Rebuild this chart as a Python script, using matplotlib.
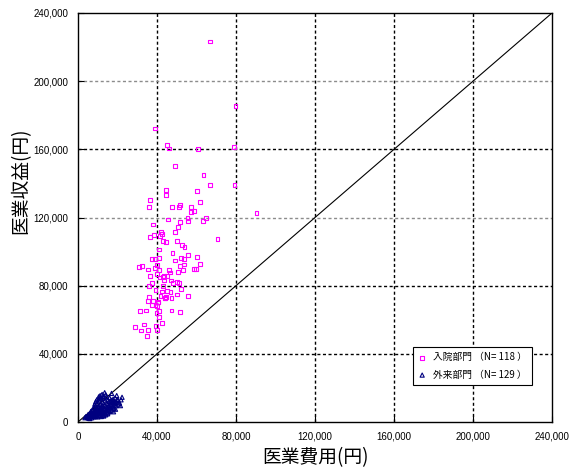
import matplotlib
matplotlib.use("Agg")
import matplotlib.pyplot as plt
from matplotlib.ticker import FuncFormatter, MultipleLocator

plt.rcParams['font.family'] = ['Noto Sans CJK JP', 'DejaVu Sans']

# 入院部門 (inpatient): cost (x), revenue (y)
inpatient_cost = [
    67000, 79800, 39000, 45200, 46200, 60900, 79000, 49100, 63600, 66700,
    79300, 44400, 44700, 60400, 36300, 35800, 47600, 51000, 51500, 61800,
    57100, 57100, 58600, 90300, 45700, 51500, 55500, 55700, 64700, 63300,
    38100, 50500, 49100, 41900, 42500, 41500, 38600, 36600, 70700, 43000,
    44700, 50000, 52800, 54000, 41000, 47900, 55700, 37500, 39100, 40900,
    49000, 52300, 53800, 60100, 61800, 40000, 30900, 32400, 35300, 39100,
    41000, 51500, 53800, 58700, 59600, 46200, 46700, 50600, 40000, 41500,
    43400, 43400, 47100, 48100, 50100, 51100, 35800, 42900, 52300, 39300,
    42500, 45200, 46900, 50100, 55700, 35800, 43900, 44600, 47400, 35400,
    38100, 40500, 39300, 37300, 31400, 34400, 40900, 47400, 51500, 39800,
    41000, 42400, 33300, 39500, 28700, 31900, 35300, 40000, 34900, 41700,
    40400, 40000, 44200, 43200, 37500, 44900, 53200, 36500,
]
inpatient_rev = [
    223200, 185600, 172300, 162500, 160400, 160200, 161400, 150400, 144900, 139200,
    138900, 136100, 133200, 135600, 130400, 126200, 126200, 126200, 127300, 128900,
    126200, 123400, 124000, 122800, 118900, 117400, 119900, 118100, 119700, 117900,
    115800, 114400, 111500, 111500, 110300, 109100, 109900, 108600, 107400, 106400,
    105800, 106400, 104000, 102500, 101300, 99300, 98000, 95800, 95800, 96200,
    94700, 96200, 95600, 96800, 92900, 92300, 90800, 91500, 89400, 90400,
    89200, 91400, 92500, 89800, 89800, 89200, 87800, 88200, 86700, 84700,
    85700, 83300, 83100, 81400, 82000, 81400, 80000, 79800, 78200, 77600,
    76500, 77000, 76100, 74900, 73900, 73200, 72900, 73400, 72900, 71200,
    71000, 70400, 68700, 68500, 65100, 65500, 65100, 65500, 64400, 63800,
    61600, 57900, 57300, 56500, 55700, 53600, 54000, 54000, 50300, 73900,
    70200, 68200, 72400, 84900, 81600, 85500, 89200, 85700,
]

# 外来部門 (outpatient): cost (x), revenue (y)
outpatient_cost = [
    3500, 4000, 4500, 5000, 5200, 5800, 6000, 6300, 6500, 6800,
    7000, 7200, 7500, 7800, 8000, 8200, 8400, 8600, 8800, 9000,
    9200, 9400, 9600, 9800, 10000, 10200, 10400, 10600, 10800, 11000,
    11200, 11400, 11600, 11800, 12000, 12200, 12400, 12600, 12800, 13000,
    13200, 13400, 13600, 13800, 14000, 14200, 14400, 14600, 14800, 15000,
    15200, 15400, 15600, 15800, 16000, 16200, 16400, 16600, 16800, 17000,
    17200, 17400, 17600, 17800, 18000, 18200, 18400, 18600, 18800, 19000,
    19200, 19400, 19600, 19900, 20300, 20600, 21000, 21500, 21800, 22300,
    6000, 7000, 8000, 9000, 10000, 11000, 12000, 13000, 14000, 15000,
    10500, 11200, 12200, 13500, 9000, 8500, 9500, 10800, 12800, 14500,
    16500, 17500, 18500, 11500, 12500, 13700, 15600, 16800, 5500, 6700,
    7700, 8700, 9700, 10700, 11700, 12700, 13700, 14700, 15700, 16700,
    4800, 5600, 6600, 7600, 8600, 9600, 10600, 11600, 12600,
]
outpatient_rev = [
    2500, 3200, 2800, 3500, 4500, 3000, 5000, 4000, 6200, 3600,
    5500, 7000, 4500, 6000, 8500, 3800, 5200, 7200, 9500, 4600,
    6500, 8000, 11000, 3500, 5500, 7500, 9000, 12500, 4200, 6200,
    8300, 10200, 14000, 3200, 5000, 7000, 9200, 11500, 15000, 4000,
    6000, 8000, 10000, 12500, 16000, 4800, 6800, 9000, 11000, 13000,
    5500, 7500, 9800, 12000, 14200, 6200, 8300, 10500, 12800, 16800,
    7000, 9000, 11200, 13500, 6000, 8000, 10000, 12000, 14200, 7500,
    9500, 11500, 15500, 13200, 12800, 10500, 11200, 9600, 13000, 14500,
    2000, 2500, 3000, 3200, 3000, 4000, 3800, 3500, 4200, 4800,
    14800, 15500, 16200, 17200, 12000, 10500, 13000, 13500, 14000, 15000,
    12000, 12500, 11000, 6500, 5800, 5500, 6800, 7800, 2200, 3800,
    4200, 5800, 6600, 5000, 5600, 6400, 7200, 8200, 8800, 9800,
    2600, 2900, 4800, 3300, 4300, 4700, 6100, 8600, 9800,
]

series_labels = ["入院部門 （N= 118 ）", "外来部門 （N= 129 ）"]
x_label = "医業費用(円)"
y_label = "医業収益(円)"
axis_max = 240000
tick_step = 40000

fig = plt.figure(figsize=(5.72, 4.71), dpi=100)
ax = fig.add_axes([78/572, 1-422/471, (552-78)/572, (422-13)/471])

ax.set_xlim(0, axis_max)
ax.set_ylim(0, axis_max)
ax.xaxis.set_major_locator(MultipleLocator(tick_step))
ax.yaxis.set_major_locator(MultipleLocator(tick_step))
fmt = FuncFormatter(lambda v, p: f"{int(v):,}")
ax.xaxis.set_major_formatter(fmt)
ax.yaxis.set_major_formatter(fmt)

# gridlines
for v in range(tick_step, axis_max, tick_step):
    ax.axvline(v, color='black', linestyle=(0, (2.2, 1.8)), linewidth=1.0, zorder=1)
    col = '#8c8c8c' if v in (120000, 200000) else 'black'
    ax.axhline(v, color=col, linestyle=(0, (2.2, 1.8)), linewidth=1.0, zorder=1)

# diagonal y = x
ax.plot([0, axis_max], [0, axis_max], color='black', linewidth=0.8, zorder=2)

ax.scatter(inpatient_cost, inpatient_rev, marker='s', s=7, facecolors='none',
           edgecolors='#FF00FF', linewidths=0.8, zorder=3, label=series_labels[0])
ax.scatter(outpatient_cost, outpatient_rev, marker='^', s=9, facecolors='none',
           edgecolors='#000080', linewidths=0.8, zorder=3, label=series_labels[1])

for s in ax.spines.values():
    s.set_linewidth(1.0)
    s.set_color('black')

ax.tick_params(direction='in', length=4, width=0.8, pad=7, labelsize=7)
for lab in ax.get_xticklabels() + ax.get_yticklabels():
    lab.set_fontfamily(['Liberation Sans', 'DejaVu Sans'])

ax.set_xlabel(x_label, fontsize=13.5, labelpad=4)
ax.set_ylabel(y_label, fontsize=13.5)
ax.yaxis.set_label_coords(-0.098, 0.59)

leg = ax.legend(loc='lower right', bbox_to_anchor=(0.958, 0.0905), fontsize=7,
                frameon=True, fancybox=False, edgecolor='black', framealpha=1,
                handlelength=0.8, handletextpad=0.7, borderpad=0.55,
                labelspacing=0.75, scatterpoints=1, borderaxespad=0,
                markerscale=1.0)
leg.get_frame().set_linewidth(0.8)
leg.set_zorder(5)

fig.savefig("out.png", dpi=100)
